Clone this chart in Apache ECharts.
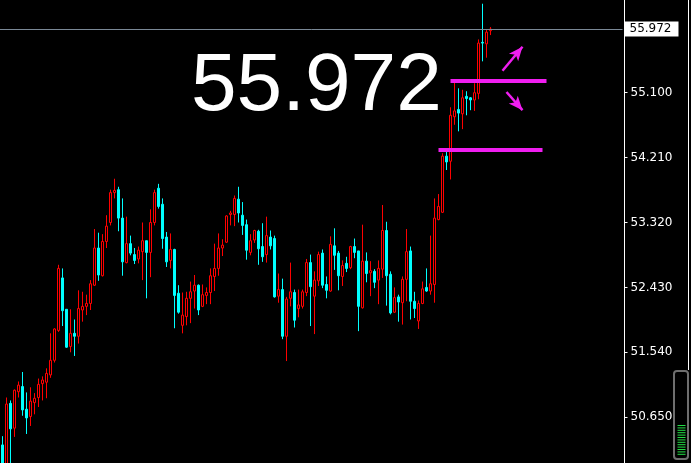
<!DOCTYPE html>
<html>
<head>
<meta charset="utf-8">
<script src="https://cdn.jsdelivr.net/npm/echarts@6/dist/echarts.min.js"></script>
<style>
html,body{margin:0;padding:0;background:#000;}
#chart{width:691px;height:463px;}
</style>
</head>
<body>
<div id="chart"></div>
<script>
// ---- Data (bar index = position on chart) ----
const opens  = [50.27,49.91,50.84,50.50,51.00,51.07,50.76,50.66,50.85,50.92,51.11,51.13,51.23,51.43,51.84,52.56,52.13,51.62,51.80,51.76,
                52.12,52.17,52.21,52.46,52.97,52.59,53.06,53.32,53.73,53.77,53.38,52.77,53.03,52.88,52.82,52.92,53.07,52.91,53.32,53.79,
                53.57,53.12,52.80,52.95,52.35,51.91,52.03,52.28,52.38,52.46,52.17,52.32,52.36,52.58,52.69,52.97,53.05,53.43,53.43,53.64,
                53.42,53.29,52.91,53.08,53.20,52.99,52.88,53.12,53.10,52.31,52.40,51.76,52.28,52.36,52.14,52.17,52.36,52.77,52.31,52.52,
                52.90,52.47,52.38,53.00,52.90,52.58,52.76,52.70,52.99,52.93,52.15,52.79,52.63,52.65,52.53,52.68,53.21,52.61,52.09,52.30,
                52.22,52.54,52.93,52.24,51.97,52.21,52.43,52.38,52.47,53.36,53.46,54.23,54.16,54.77,54.87,54.81,55.05,55.03,55.00,55.09,
                55.79,55.77,55.95];
const highs  = [50.39,50.92,50.88,51.03,51.14,51.27,50.99,51.06,50.98,51.18,51.21,51.32,51.80,51.87,52.74,52.69,52.13,52.13,51.99,52.39,
                52.37,52.33,52.53,53.23,53.18,53.16,53.42,53.77,53.92,53.81,53.65,53.40,53.14,52.97,52.99,53.32,53.07,53.50,53.77,53.85,
                53.65,53.19,53.17,52.96,52.46,52.36,52.37,52.51,52.60,52.47,52.47,52.43,52.69,53.03,53.17,53.09,53.42,53.48,53.69,53.81,
                53.60,53.36,53.16,53.22,53.22,53.31,53.40,53.21,53.14,52.62,52.55,52.30,52.77,52.40,52.40,52.40,52.82,52.88,52.65,52.92,
                52.95,52.58,53.13,53.24,52.93,52.80,52.85,53.00,53.10,52.93,53.29,52.91,52.79,52.68,52.80,53.56,53.33,52.65,52.43,52.33,
                52.58,53.23,52.99,52.37,52.25,52.51,52.69,53.14,53.65,53.71,54.27,54.30,54.90,55.24,55.16,55.14,55.12,55.04,55.23,55.83,
                56.32,55.96,56.00];
const lows   = [49.85,49.85,49.94,50.38,50.92,50.67,50.42,50.53,50.69,50.79,50.88,50.91,51.19,51.40,51.82,51.90,51.60,51.54,51.49,51.66,
                51.96,52.05,52.12,52.45,52.52,52.58,52.97,53.28,53.65,53.20,52.59,52.76,52.87,52.75,52.76,52.53,52.28,52.57,53.28,53.51,
                52.96,52.71,52.69,51.87,52.07,51.80,51.91,51.94,52.14,52.05,52.16,52.20,52.20,52.38,52.59,52.86,53.04,53.28,53.27,53.32,
                53.15,52.81,52.87,53.04,52.74,52.78,52.77,52.95,52.29,52.22,51.72,51.42,52.17,51.88,52.02,52.14,52.31,51.90,51.79,52.45,
                52.42,52.28,52.37,52.67,52.39,52.45,52.64,52.68,52.83,51.83,52.14,52.50,52.31,52.42,52.20,52.56,52.18,52.06,52.08,51.96,
                51.92,52.24,51.99,52.01,51.86,52.20,52.37,52.33,52.22,53.35,53.45,54.04,53.91,54.66,54.57,54.60,54.79,54.86,54.85,55.01,
                55.53,55.58,55.89];
const closes = [49.95,50.83,50.49,51.02,51.09,50.75,50.64,50.87,50.91,51.10,51.16,51.25,51.43,51.86,52.69,52.11,51.61,51.80,51.76,52.14,
                52.17,52.21,52.48,52.97,52.60,53.06,53.27,53.73,53.76,53.38,52.78,53.03,52.90,52.80,52.94,53.07,52.91,53.32,53.73,53.54,
                53.10,52.78,52.95,52.32,52.09,52.05,52.28,52.37,52.46,52.12,52.33,52.36,52.59,52.69,52.97,53.01,53.41,53.45,53.65,53.45,
                53.28,52.94,53.07,53.21,52.96,52.85,53.14,53.00,52.30,52.40,51.76,52.27,52.37,51.98,52.19,52.37,52.77,52.44,52.53,52.88,
                52.46,52.39,53.02,52.87,52.59,52.73,52.69,52.99,52.91,52.17,52.79,52.62,52.66,52.50,52.69,53.21,52.59,52.08,52.29,52.23,
                52.54,52.92,52.24,52.14,52.21,52.41,52.38,52.48,53.38,53.54,54.23,54.15,54.79,54.85,54.82,55.03,55.02,55.00,55.10,55.78,
                55.78,55.93,55.972];
const totalSlots = 156;                 // bar slots incl. empty right-hand shift area
const categories = Array.from({length: totalSlots}, (_, i) => 'Bar ' + (i + 1));
const tickValues = [50.650, 51.540, 52.430, 53.320, 54.210, 55.100];
const axisMin = 50.022, axisMax = 56.371;
const currentPrice = 55.972;
const levelUpper = 55.264, levelLower = 54.320;
const levelUpperRange = [112, 136], levelLowerRange = [109, 135];
const arrowUp   = [[125, 55.40], [130.2, 55.73]];
const arrowDown = [[126, 55.11], [130.2, 54.86]];

const ohlc = opens.map((o, i) => [o, closes[i], lows[i], highs[i]]);

const magenta = '#f01ef0';
const chart = echarts.init(document.getElementById('chart'), null, {renderer: 'canvas'});

const gaugeLines = [];
for (let i = 0; i < 13; i++) {
  gaugeLines.push({type: 'line', silent: true,
    shape: {x1: 677.5, y1: 425.5 + i * 2.4, x2: 685.5, y2: 425.5 + i * 2.4},
    style: {stroke: '#22dd44', lineWidth: 1}});
}

chart.setOption({
  backgroundColor: '#000000',
  animation: false,
  grid: {left: 0.5, right: 66.5, top: 0, bottom: 0},
  xAxis: {type: 'category', data: categories, boundaryGap: true, show: false},
  yAxis: {
    type: 'value', position: 'right', min: axisMin, max: axisMax, scale: true,
    splitLine: {show: false},
    axisLine: {show: true, lineStyle: {color: '#ffffff', width: 1}},
    axisTick: {show: true, inside: false, length: 3, customValues: tickValues, lineStyle: {color: '#ffffff'}},
    axisLabel: {customValues: tickValues, formatter: v => v.toFixed(3), color: '#ffffff',
      fontSize: 12, fontFamily: 'DejaVu Sans', margin: 6}
  },
  series: [{
    type: 'candlestick',
    data: ohlc,
    barWidth: 2,
    clip: true,
    itemStyle: {color: '#000000', color0: '#00ffff', borderColor: '#ff0000', borderColor0: '#00ffff', borderWidth: 1},
    markLine: {
      silent: true, animation: false, symbol: 'none',
      data: [
        [{yAxis: currentPrice, x: 0, lineStyle: {color: '#7a8896', width: 1, type: 'solid'},
          label: {show: true, position: 'end', distance: 2, formatter: currentPrice.toFixed(3),
            backgroundColor: '#ffffff', color: '#000000', padding: [2, 7, 1, 5], fontSize: 12, fontFamily: 'DejaVu Sans'}},
         {yAxis: currentPrice, xAxis: totalSlots - 1}],
        [{coord: [levelUpperRange[0], levelUpper], lineStyle: {color: magenta, width: 4, type: 'solid'}, label: {show: false}},
         {coord: [levelUpperRange[1], levelUpper], lineStyle: {color: magenta, width: 4, type: 'solid'}}],
        [{coord: [levelLowerRange[0], levelLower], lineStyle: {color: magenta, width: 4, type: 'solid'}, label: {show: false}},
         {coord: [levelLowerRange[1], levelLower], lineStyle: {color: magenta, width: 4, type: 'solid'}}],
        [{coord: arrowUp[0], symbol: 'none', lineStyle: {color: magenta, width: 2.5, type: 'solid'}, label: {show: false}},
         {coord: arrowUp[1], symbol: 'arrow', symbolSize: [9, 14], itemStyle: {color: magenta}}],
        [{coord: arrowDown[0], symbol: 'none', lineStyle: {color: magenta, width: 2.5, type: 'solid'}, label: {show: false}},
         {coord: arrowDown[1], symbol: 'arrow', symbolSize: [9, 14], itemStyle: {color: magenta}}]
      ]
    }
  }],
  graphic: [
    {type: 'text', silent: true, x: 191, y: 87,
      style: {text: currentPrice.toFixed(3), fill: '#ffffff', fontSize: 82, fontFamily: 'Liberation Sans',
        verticalAlign: 'middle', align: 'left'}},
    {type: 'line', silent: true, shape: {x1: 688.5, y1: 0, x2: 688.5, y2: 370}, style: {stroke: '#ffffff', lineWidth: 1}},
    {type: 'rect', silent: true, shape: {x: 674, y: 371, width: 14, height: 88, r: 3},
      style: {fill: 'none', stroke: '#6e6e6e', lineWidth: 2}},
    ...gaugeLines
  ]
});
</script>
</body>
</html>
